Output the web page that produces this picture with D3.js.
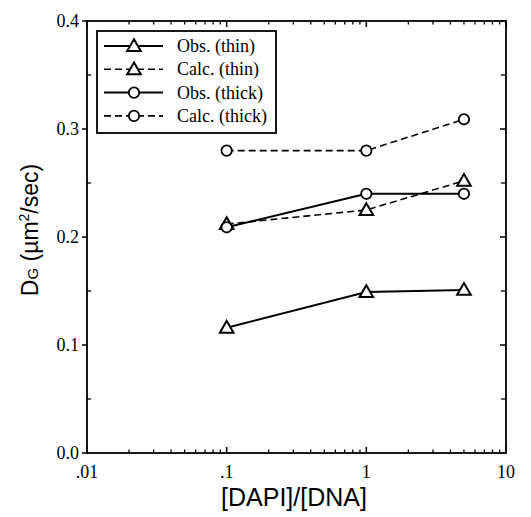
<!DOCTYPE html>
<html>
<head>
<meta charset="utf-8">
<script src="https://cdn.jsdelivr.net/npm/d3@7"></script>
<style>
  body { margin: 0; background: #fff; }
  svg text { fill: #000; }
</style>
</head>
<body>
<div id="chart"></div>
<script>
// == DATA ==
const ratios = [0.1, 1, 5];
const obsThin = [0.116, 0.149, 0.151];
const calcThin = [0.212, 0.225, 0.252];
const obsThick = [0.209, 0.240, 0.240];
const calcThick = [0.280, 0.280, 0.309];
const seriesNames = ['Obs. (thin)', 'Calc. (thin)', 'Obs. (thick)', 'Calc. (thick)'];
const xTickVals = [0.01, 0.1, 1, 10];
const xTickLabels = ['.01', '.1', '1', '10'];
const yTickVals = [0, 0.1, 0.2, 0.3, 0.4];

// == SETUP ==
const W = 531, H = 517;
const M = { left: 87, right: 25, top: 21, bottom: 64 };

const svg = d3.select('#chart').append('svg')
  .attr('width', W).attr('height', H);

const x = d3.scaleLog().domain([0.01, 10]).range([M.left, W - M.right]);
const y = d3.scaleLinear().domain([0, 0.4]).range([H - M.bottom, M.top]);

const SERIF = '"Liberation Serif", "DejaVu Serif", serif';
const SANS = '"Liberation Sans", Arial, sans-serif';

// minor ticks on log axis
const xMinor = [];
[0.01, 0.1, 1].forEach(d => { for (let k = 2; k <= 9; k++) xMinor.push(d * k); });
const yMinor = d3.range(0.05, 0.4, 0.1);

// == AXES ==
const gAx = svg.append('g').attr('stroke', '#000').attr('fill', 'none');

gAx.append('rect')
  .attr('x', x(0.01)).attr('y', y(0.4))
  .attr('width', x(10) - x(0.01)).attr('height', y(0) - y(0.4))
  .attr('stroke-width', 1.8);

// x ticks, bottom and top, inward
[[y(0), -1], [y(0.4), 1]].forEach(([y0, dir]) => {
  xTickVals.forEach(v => gAx.append('line')
    .attr('x1', x(v)).attr('x2', x(v)).attr('y1', y0).attr('y2', y0 + dir * 6)
    .attr('stroke-width', 1.5));
  xMinor.forEach(v => gAx.append('line')
    .attr('x1', x(v)).attr('x2', x(v)).attr('y1', y0).attr('y2', y0 + dir * 3.5)
    .attr('stroke-width', 1.3));
});

// y ticks: majors stick out on the left, inward on the right
yTickVals.forEach(v => {
  gAx.append('line')
    .attr('x1', x(0.01) - 5).attr('x2', x(0.01)).attr('y1', y(v)).attr('y2', y(v))
    .attr('stroke-width', 1.5);
  gAx.append('line')
    .attr('x1', x(10) - 6).attr('x2', x(10)).attr('y1', y(v)).attr('y2', y(v))
    .attr('stroke-width', 1.5);
});
yMinor.forEach(v => {
  gAx.append('line')
    .attr('x1', x(0.01)).attr('x2', x(0.01) + 4).attr('y1', y(v)).attr('y2', y(v))
    .attr('stroke-width', 1.3);
  gAx.append('line')
    .attr('x1', x(10) - 5).attr('x2', x(10)).attr('y1', y(v)).attr('y2', y(v))
    .attr('stroke-width', 1.3);
});

// tick labels
svg.append('g').selectAll('text').data(xTickVals).join('text')
  .attr('x', d => x(d)).attr('y', y(0) + 25)
  .attr('text-anchor', 'middle')
  .attr('font-family', SERIF).attr('font-size', '18px')
  .text((d, i) => xTickLabels[i]);

svg.append('g').selectAll('text').data(yTickVals).join('text')
  .attr('x', x(0.01) - 8).attr('y', d => y(d) + 6)
  .attr('text-anchor', 'end')
  .attr('font-family', SERIF).attr('font-size', '18px')
  .text(d => d.toFixed(1));

// axis titles
svg.append('text')
  .attr('x', 294).attr('y', 506)
  .attr('text-anchor', 'middle')
  .attr('font-family', SANS).attr('font-size', '25px')
  .text('[DAPI]/[DNA]');

const yTitle = svg.append('text')
  .attr('transform', 'translate(38,230) rotate(-90)')
  .attr('text-anchor', 'middle')
  .attr('font-family', SANS).attr('font-size', '23px');
yTitle.append('tspan').text('D');
yTitle.append('tspan').attr('font-size', '15px').text('G');
yTitle.append('tspan').text(' (\u00b5m');
yTitle.append('tspan').attr('font-size', '14px').attr('dy', -9).text('2');
yTitle.append('tspan').attr('dy', 9).text('/sec)');

// == SERIES ==
const series = [
  { vals: obsThin, dash: null, marker: 'tri', width: 2 },
  { vals: calcThin, dash: '7,4', marker: 'tri', width: 1.6 },
  { vals: obsThick, dash: null, marker: 'circ', width: 2 },
  { vals: calcThick, dash: '7,4', marker: 'circ', width: 1.6 }
];

const line = d3.line().x(d => x(d[0])).y(d => y(d[1]));
const triPath = d3.symbol().type(d3.symbolTriangle).size(80);

function drawMarker(g, kind, cx, cy) {
  if (kind === 'tri') {
    g.append('path').attr('d', triPath())
      .attr('transform', `translate(${cx},${cy + 1})`)
      .attr('fill', '#fff').attr('stroke', '#000').attr('stroke-width', 2);
  } else {
    g.append('circle').attr('cx', cx).attr('cy', cy).attr('r', 5.2)
      .attr('fill', '#fff').attr('stroke', '#000').attr('stroke-width', 1.8);
  }
}

const gLines = svg.append('g');
const gMarks = svg.append('g');
series.forEach(s => {
  const pts = ratios.map((r, i) => [r, s.vals[i]]);
  gLines.append('path').attr('d', line(pts))
    .attr('fill', 'none').attr('stroke', '#000')
    .attr('stroke-width', s.width)
    .attr('stroke-dasharray', s.dash);
  pts.forEach(p => drawMarker(gMarks, s.marker, x(p[0]), y(p[1])));
});

// == LEGEND ==
const lg = svg.append('g');
lg.append('rect')
  .attr('x', 97).attr('y', 31).attr('width', 179).attr('height', 102)
  .attr('fill', '#fff').attr('stroke', '#000').attr('stroke-width', 1.8);

series.forEach((s, i) => {
  const ly = 46 + i * 23.3;
  lg.append('line')
    .attr('x1', 104).attr('x2', 163).attr('y1', ly).attr('y2', ly)
    .attr('stroke', '#000').attr('stroke-width', s.width)
    .attr('stroke-dasharray', s.dash);
  drawMarker(lg, s.marker, 134, ly);
  lg.append('text')
    .attr('x', 177).attr('y', ly + 6)
    .attr('font-family', SERIF).attr('font-size', '18px')
    .text(seriesNames[i]);
});
</script>
</body>
</html>
